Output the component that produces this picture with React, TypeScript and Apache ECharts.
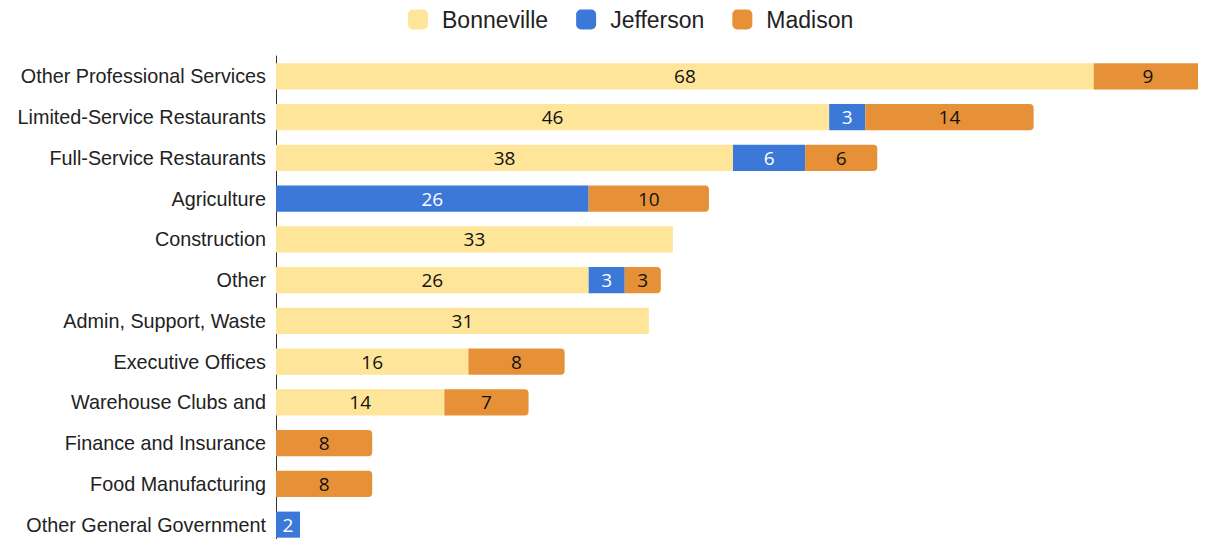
import React, { useEffect, useRef } from "react";
import * as echarts from "echarts";

const categories = [
  "Other Professional Services",
  "Limited-Service Restaurants",
  "Full-Service Restaurants",
  "Agriculture",
  "Construction",
  "Other",
  "Admin, Support, Waste",
  "Executive Offices",
  "Warehouse Clubs and",
  "Finance and Insurance",
  "Food Manufacturing",
  "Other General Government",
];

const bonneville = [68, 46, 38, null, 33, 26, 31, 16, 14, null, null, null];
const jefferson = [null, 3, 6, 26, null, 3, null, null, null, null, null, 2];
const madison = [9, 14, 6, 10, null, 3, null, 8, 7, 8, 8, null];

const seriesNames = ["Bonneville", "Jefferson", "Madison"];
const colors = ["#ffe599", "#3c78d8", "#e69138"];
const labelColors = ["#111111", "#ffffff", "#111111"];

export default function App() {
  const ref = useRef<HTMLDivElement>(null);
  useEffect(() => {
    if (!ref.current) return;
    const chart = echarts.init(ref.current, null, { renderer: "svg" });
    const datas = [bonneville, jefferson, madison];
    chart.setOption({
      animation: false,
      legend: {
        top: 3,
        left: 403,
        itemWidth: 20,
        itemHeight: 20,
        itemGap: 28,
        icon: "roundRect",
        textStyle: {
          fontFamily: "Liberation Sans",
          fontSize: 23,
          color: "#222",
          padding: [0, 0, 0, 9],
        },
        data: seriesNames,
      },
      grid: { left: 276, right: 4, top: 56, bottom: 2, containLabel: false },
      xAxis: {
        type: "value",
        min: 0,
        max: 77,
        show: false,
        splitLine: { show: false },
      },
      yAxis: {
        type: "category",
        inverse: true,
        data: categories,
        axisLine: { show: true, lineStyle: { color: "#333", width: 1 } },
        axisTick: { show: false },
        axisLabel: {
          fontFamily: "Liberation Sans",
          fontSize: 19.8,
          color: "#222",
          margin: 10,
        },
      },
      series: seriesNames.map((name, i) => ({
        name,
        type: "bar",
        stack: "total",
        barCategoryGap: "36%",
        data: datas[i],
        itemStyle: {
          color: colors[i],
          borderRadius: i === 2 ? [0, 4, 4, 0] : 0,
        },
        label: {
          show: true,
          position: "inside",
          fontFamily: "Open Sans",
          fontSize: 19,
          color: labelColors[i],
        },
      })),
    });
    return () => chart.dispose();
  }, []);
  return <div ref={ref} style={{ width: 1206, height: 547, margin: -8 }} />;
}
